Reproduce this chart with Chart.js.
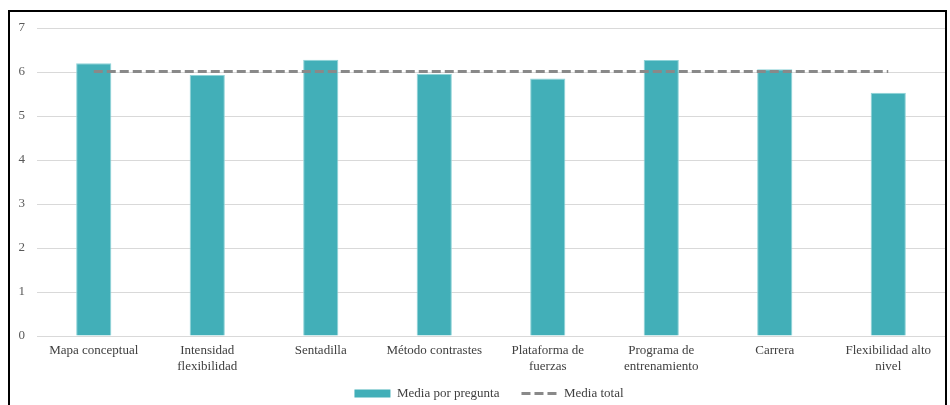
<!DOCTYPE html>
<html>
<head>
<meta charset="utf-8">
<script src="https://cdn.jsdelivr.net/npm/chart.js@4.4.1/dist/chart.umd.min.js"></script>
<style>
    html, body { margin: 0; padding: 0; background: #fff; }
    #wrap { position: relative; width: 950px; height: 405px; overflow: hidden; }
    #chart1 { position: absolute; left: 0; top: 0; }
    #frame {
        position: absolute; left: 8px; top: 10px;
        width: 935px; height: 440px;
        border: 2px solid #000; pointer-events: none;
    }
</style>
</head>
<body>
<div id="wrap">
    <canvas id="chart1" width="950" height="420"></canvas>
    <div id="frame"></div>
</div>
<script>
// values
const categories = [
    "Mapa conceptual",
    ["Intensidad", "flexibilidad"],
    "Sentadilla",
    "Método contrastes",
    ["Plataforma de", "fuerzas"],
    ["Programa de", "entrenamiento"],
    "Carrera",
    ["Flexibilidad alto", "nivel"]
];
const mediaPorPregunta = [6.20, 5.93, 6.28, 5.96, 5.85, 6.27, 6.06, 5.53];
const mediaTotal = [6.01, 6.01, 6.01, 6.01, 6.01, 6.01, 6.01, 6.01];
const yTicks = [0, 1, 2, 3, 4, 5, 6, 7];

const serif = "'Liberation Serif', 'Times New Roman', serif";

// legend items take the dash and width of the dataset, not of its points
function legendLabels(chart) {
    let items = Chart.defaults.plugins.legend.labels.generateLabels(chart);
    items.forEach(item => {
        let ds = chart.data.datasets[item.datasetIndex];
        if (ds.type === "line") {
            item.lineDash = ds.borderDash;
            item.lineWidth = ds.borderWidth;
            item.strokeStyle = ds.borderColor;
        } else {
            item.lineWidth = 0;
        }
    });
    return items;
}

// the legend sits a little right of the centre in the original
const legendShift = {
    id: "legendShift",
    afterLayout(chart) {
        if (chart.legend) chart.legend.left += 33;
    }
};

function createChart(canvas) {
    return new Chart(canvas.id, {
        type: "bar",
        data: {
            labels: categories,
            datasets: [{
                type: "line",
                label: "Media total",
                data: mediaTotal,
                borderColor: "#898989",
                backgroundColor: "#898989",
                borderWidth: 3,
                borderDash: [9, 4],
                pointRadius: 0,
                pointStyle: "line",
                fill: false,
                order: 0
            }, {
                type: "bar",
                label: "Media por pregunta",
                data: mediaPorPregunta,
                backgroundColor: "#42afb8",
                borderColor: "#8fd3d8",
                borderWidth: 1,
                borderSkipped: "bottom",
                pointStyle: "rect",
                categoryPercentage: 1,
                barPercentage: 0.31,
                order: 1
            }]
        },
        options: {
            responsive: false,
            animation: false,
            layout: { padding: { left: 0, right: 5, top: 28, bottom: 10 } },
            plugins: {
                tooltip: { enabled: false },
                legend: {
                    position: "bottom",
                    reverse: true,
                    labels: {
                        usePointStyle: true,
                        pointStyleWidth: 36,
                        boxWidth: 36,
                        boxHeight: 8,
                        padding: 22,
                        color: "#404040",
                        font: { family: serif, size: 13 },
                        generateLabels: legendLabels
                    }
                }
            },
            scales: {
                x: {
                    grid: { display: false, drawTicks: false },
                    border: { display: true, color: "#d9d9d9" },
                    ticks: {
                        color: "#404040",
                        padding: 6,
                        maxRotation: 0,
                        autoSkip: false,
                        font: { family: serif, size: 13, lineHeight: "16.5px" }
                    },
                    afterFit: function (scale) {
                        scale.height = 29;
                        // let the second label line run below the axis box
                        scale._computeLabelArea = () => undefined;
                    }
                },
                y: {
                    min: 0,
                    max: 7,
                    afterBuildTicks: function (scale) {
                        scale.ticks = yTicks.map(v => ({ value: v }));
                    },
                    grid: { color: "#d9d9d9", drawTicks: false },
                    border: { display: false },
                    ticks: {
                        color: "#595959",
                        padding: 12,
                        font: { family: serif, size: 13 }
                    },
                    afterFit: function (scale) { scale.width = 37; }
                }
            }
        },
        plugins: [legendShift]
    });
}

createChart(document.getElementById("chart1"));
</script>
</body>
</html>
